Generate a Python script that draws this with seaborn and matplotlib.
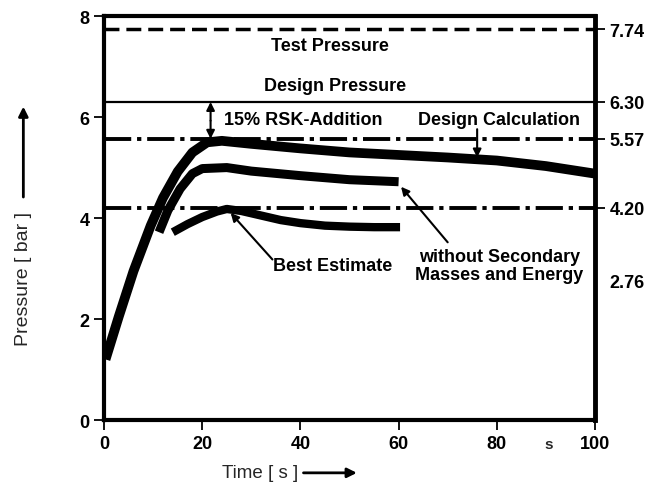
import numpy as np
import pandas as pd
import matplotlib
matplotlib.use("Agg")
import matplotlib.pyplot as plt
import seaborn as sns

sns.set_theme(style="white")
plt.rcParams['font.family'] = ['Liberation Sans', 'DejaVu Sans']

# curves
calc_t = [0.3, 3, 6, 9.5, 12, 15, 18, 21, 24, 30, 40, 50, 60, 70, 80, 90, 100]
calc_p = [1.2, 2.05, 2.95, 3.85, 4.4, 4.92, 5.3, 5.5, 5.53, 5.47, 5.38, 5.3, 5.25, 5.2, 5.14, 5.03, 4.88]

nosec_t = [11.2, 13, 15.5, 18, 20, 25, 30, 40, 50, 60]
nosec_p = [3.72, 4.15, 4.58, 4.88, 4.98, 5.0, 4.93, 4.84, 4.76, 4.72]

best_t = [14, 17, 20, 23, 25, 28, 32, 36, 40, 45, 50, 55, 60.3]
best_p = [3.72, 3.88, 4.02, 4.13, 4.18, 4.14, 4.05, 3.96, 3.9, 3.85, 3.83, 3.82, 3.82]

levels = [7.74, 6.30, 5.57, 4.20]
right_labels = ['7.74', '6.30', '5.57', '4.20', '2.76']
right_pos = [7.74, 6.30, 5.57, 4.20, 2.76]

fig = plt.figure(figsize=(6.67, 4.89), dpi=100)
ax = fig.add_axes([0.156, 0.139, 0.736, 0.826])

k = dict(color='black', solid_capstyle='butt', legend=False)
sns.lineplot(x=calc_t, y=calc_p, ax=ax, lw=7, sort=False, **k)
sns.lineplot(x=nosec_t, y=nosec_p, ax=ax, lw=6.5, sort=False, **k)
sns.lineplot(x=best_t, y=best_p, ax=ax, lw=6, sort=False, **k)

ax.axhline(levels[0], color='black', lw=2.5, dashes=(4.3, 2.0))
ax.axhline(levels[1], color='black', lw=1.6)
ax.axhline(levels[2], color='black', lw=2.8, dashes=(7, 1.5, 1.1, 1.5))
ax.axhline(levels[3], color='black', lw=2.8, dashes=(7, 1.5, 1.1, 1.5))

ax.set_xlim(0, 100)
ax.set_ylim(0, 8)
ax.set_xticks([0, 20, 40, 60, 80, 100])
ax.set_xticklabels(['0', '20', '40', '60', '80', '100'])
ax.set_yticks([0, 2, 4, 6, 8])
for s in ax.spines.values():
    s.set_color('black')
ax.spines['left'].set_linewidth(3)
ax.spines['bottom'].set_linewidth(3)
ax.spines['right'].set_linewidth(3.5)
ax.spines['top'].set_linewidth(3)
ax.tick_params(axis='both', direction='out', length=7, width=1.3, colors='black',
               labelsize=13, left=True, bottom=True)
for lab in ax.get_xticklabels() + ax.get_yticklabels():
    lab.set_fontweight('bold')

ax2 = ax.twinx()
ax2.set_ylim(0, 8)
ax2.set_yticks(right_pos)
ax2.set_yticklabels(right_labels)
ax2.tick_params(axis='y', direction='out', length=7, width=1.3, colors='black',
                labelsize=13, right=True)
ax2.yaxis.get_major_ticks()[-1].tick2line.set_visible(False)
for s in ax2.spines.values():
    s.set_visible(False)
for lab in ax2.get_yticklabels():
    lab.set_fontweight('bold')

tk = dict(fontsize=13, fontweight='bold', color='black')
ax.text(46, 7.42, 'Test Pressure', ha='center', va='center', **tk)
ax.text(47, 6.62, 'Design Pressure', ha='center', va='center', **tk)
ax.text(24.5, 5.96, '15% RSK-Addition', ha='left', va='center', **tk)
ax.text(97, 5.96, 'Design Calculation', ha='right', va='center', **tk)
ax.text(34.5, 3.06, 'Best Estimate', ha='left', va='center', **tk)
ax.text(80.5, 3.06, 'without Secondary\nMasses and Energy', ha='center', va='center',
        linespacing=1.1, **tk)
ax.text(90.5, -0.47, 's', ha='center', va='center', fontsize=11, fontweight='bold',
        clip_on=False)

ap = dict(arrowstyle='-|>', color='black', lw=1.5, mutation_scale=12, shrinkA=0, shrinkB=0)
ax.annotate('', xy=(21.7, 6.30), xytext=(21.7, 5.93), arrowprops=ap)
ax.annotate('', xy=(21.7, 5.57), xytext=(21.7, 5.93), arrowprops=ap)
ax.annotate('', xy=(76, 5.2), xytext=(76, 5.76), arrowprops=ap)
ax.annotate('', xy=(25.8, 4.1), xytext=(34.3, 3.18), arrowprops=ap)
ax.annotate('', xy=(60.5, 4.62), xytext=(70, 3.52), arrowprops=ap)

fig.text(0.035, 0.43, 'Pressure [ bar ]', rotation=90, ha='center', va='center',
         fontsize=14)
fig.text(0.39, 0.031, 'Time [ s ]', ha='center', va='center', fontsize=13.5)
fap = dict(arrowstyle='-|>', color='black', lw=2, mutation_scale=14, shrinkA=0, shrinkB=0)
fig.add_artist(matplotlib.patches.FancyArrowPatch((0.035, 0.595), (0.035, 0.78),
               transform=fig.transFigure, **fap))
fig.add_artist(matplotlib.patches.FancyArrowPatch((0.455, 0.031), (0.535, 0.031),
               transform=fig.transFigure, **fap))

fig.savefig('out.png', dpi=100)
